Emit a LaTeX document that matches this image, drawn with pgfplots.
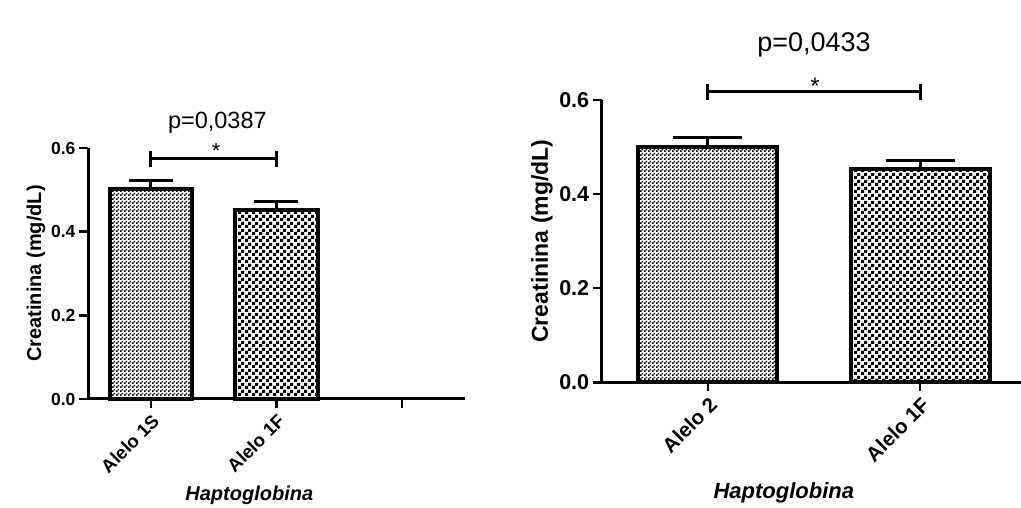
\documentclass[border=0pt]{standalone}
\usepackage{fontspec}
\setmainfont{Liberation Sans}
\usepackage{pgfplots}
\pgfplotsset{compat=1.18}
\usetikzlibrary{patterns}
\pgfdeclarepatternformonly{checkfine}{\pgfqpoint{0pt}{0pt}}{\pgfqpoint{4pt}{4pt}}{\pgfqpoint{4pt}{4pt}}{%
  \pgfpathrectangle{\pgfqpoint{0pt}{0pt}}{\pgfqpoint{2pt}{2pt}}%
  \pgfpathrectangle{\pgfqpoint{2pt}{2pt}}{\pgfqpoint{2pt}{2pt}}%
  \pgfusepath{fill}}
\pgfdeclarepatternformonly{checkcoarse}{\pgfqpoint{0pt}{0pt}}{\pgfqpoint{7pt}{7pt}}{\pgfqpoint{7pt}{7pt}}{%
  \pgfpathrectangle{\pgfqpoint{0pt}{0pt}}{\pgfqpoint{3.5pt}{3.5pt}}%
  \pgfpathrectangle{\pgfqpoint{3.5pt}{3.5pt}}{\pgfqpoint{3.5pt}{3.5pt}}%
  \pgfusepath{fill}}
\pgfplotsset{
  gp/.style={
    scale only axis,
    axis x line*=bottom, axis y line*=left,
    axis line style={line width=3pt, black},
    ymin=0, ymax=0.6, ytick={0,0.2,0.4,0.6},
    enlargelimits=false, clip=false,
    tick align=outside, major tick length=9pt,
    every tick/.style={line width=2.5pt, black},
    /pgf/number format/assume math mode=true,
    yticklabel style={/pgf/number format/fixed, /pgf/number format/fixed zerofill, /pgf/number format/precision=1},
    xticklabel style={rotate=45, anchor=north east},
  },
  gpbar/.style={ybar, bar shift=0pt, draw=black, line width=4pt,
    error bars/y dir=plus, error bars/y explicit,
    error bars/error mark=|,
    error bars/error bar style={line width=3pt, black, solid},
    error bars/error mark options={line width=3pt, black, mark size=#1}},
}
\pgfplotstableread{
x y e
0 0.501 0.021
}\leftA
\pgfplotstableread{
x y e
1 0.451 0.021
}\leftB
\pgfplotstableread{
x y e
0 0.500 0.020
}\rightA
\pgfplotstableread{
x y e
1 0.453 0.019
}\rightB
\begin{document}
\begin{tikzpicture}
\useasboundingbox (0pt,0pt) rectangle (1021pt,508pt);
% Left panel
\begin{axis}[gp, at={(88pt,109pt)}, anchor=south west,
  width=376.8pt, height=251pt,
  xmin=-0.5, xmax=2.5, xtick={0,1,2}, xticklabels={Alelo 1S,Alelo 1F,{}},
  yticklabel style={font=\fontsize{17.5}{20}\selectfont\bfseries},
  xticklabel style={font=\fontsize{18.5}{22}\selectfont\bfseries},
  xlabel={Haptoglobina},
  xlabel style={font=\fontsize{20}{24}\selectfont\bfseries\itshape, at={(axis description cs:0.428,-0.3825)}, anchor=center},
  ylabel={Creatinina (mg/dL)},
  ylabel style={font=\fontsize{20}{24}\selectfont\bfseries, at={(axis description cs:-0.138,0.5)}, anchor=center},
  bar width=0.655]
\addplot[gpbar=22pt, pattern=checkfine] table[x=x, y=y, y error=e] {\leftA};
\addplot[gpbar=22pt, pattern=checkcoarse] table[x=x, y=y, y error=e] {\leftB};
\addplot[black, line width=3pt, mark=|, mark size=8pt, mark options={line width=3pt}] coordinates {(0,0.574) (1,0.574)};
\node[font=\fontsize{22}{24}\selectfont] at (axis cs:0.52,0.593) {*};
\node[font=\fontsize{23.5}{28}\selectfont] at (axis cs:0.53,0.66) {p=0,0387};
\end{axis}
% Right panel
\begin{axis}[gp, at={(601.7pt,125.7pt)}, anchor=south west,
  width=424.6pt, height=282.3pt,
  xmin=-0.5, xmax=1.5, xtick={0,1}, xticklabels={Alelo 2,Alelo 1F},
  yticklabel style={font=\fontsize{21.5}{24}\selectfont\bfseries},
  xticklabel style={font=\fontsize{20.5}{24}\selectfont\bfseries},
  xlabel={Haptoglobina},
  xlabel style={font=\fontsize{22}{26}\selectfont\bfseries\itshape, at={(axis description cs:0.429,-0.39)}, anchor=center},
  ylabel={Creatinina (mg/dL)},
  ylabel style={font=\fontsize{23}{27}\selectfont\bfseries, at={(axis description cs:-0.1406,0.5)}, anchor=center},
  bar width=0.655]
\addplot[gpbar=34.5pt, pattern=checkfine] table[x=x, y=y, y error=e] {\rightA};
\addplot[gpbar=34.5pt, pattern=checkcoarse] table[x=x, y=y, y error=e] {\rightB};
\addplot[black, line width=3pt, mark=|, mark size=8pt, mark options={line width=3pt}] coordinates {(0,0.618) (1,0.618)};
\node[font=\fontsize{24}{26}\selectfont] at (axis cs:0.505,0.63) {*};
\node[font=\fontsize{27}{32}\selectfont] at (axis cs:0.5,0.717) {p=0,0433};
\end{axis}
\end{tikzpicture}
\end{document}
